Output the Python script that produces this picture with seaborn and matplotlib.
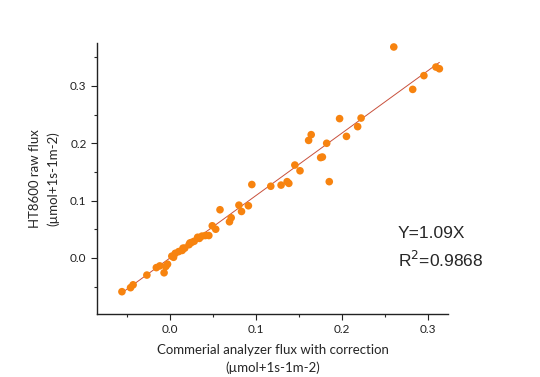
import seaborn as sns
import matplotlib.pyplot as plt
import numpy as np
import pandas as pd
from matplotlib.ticker import MultipleLocator

# Flux values
commercial_flux = [-0.056, -0.046, -0.043, -0.027, -0.016, -0.012, -0.007, -0.005, -0.003,
                   0.002, 0.004, 0.006, 0.010, 0.014, 0.015, 0.017, 0.022, 0.023, 0.025,
                   0.028, 0.032, 0.034, 0.037, 0.041, 0.045, 0.049, 0.053, 0.058, 0.069,
                   0.071, 0.080, 0.083, 0.091, 0.095, 0.117, 0.129, 0.136, 0.138, 0.145,
                   0.151, 0.161, 0.164, 0.175, 0.177, 0.182, 0.185, 0.197, 0.205, 0.218,
                   0.222, 0.260, 0.282, 0.295, 0.309, 0.313]
ht8600_flux = [-0.059, -0.052, -0.047, -0.030, -0.017, -0.014, -0.026, -0.015, -0.011,
               0.003, 0.001, 0.008, 0.011, 0.013, 0.017, 0.017, 0.023, 0.026, 0.027,
               0.029, 0.036, 0.034, 0.038, 0.039, 0.039, 0.056, 0.050, 0.084, 0.063,
               0.070, 0.092, 0.081, 0.091, 0.128, 0.125, 0.127, 0.133, 0.130, 0.162,
               0.152, 0.205, 0.215, 0.175, 0.176, 0.200, 0.133, 0.243, 0.212, 0.229,
               0.244, 0.368, 0.294, 0.318, 0.333, 0.330]
slope = 1.09
r_squared = 0.9868

df = pd.DataFrame({'x': commercial_flux, 'y': ht8600_flux})

sns.set_style('ticks')
plt.rcParams['font.family'] = ['Lato', 'DejaVu Sans']

fig = plt.figure(figsize=(5.4, 3.77), dpi=100)
ax = fig.add_axes([0.1796, 0.167, 0.65, 0.719])

# Fitted line through the origin
fit_x = np.array([df['x'].min(), df['x'].max()])
fit = pd.DataFrame({'x': fit_x, 'y': slope * fit_x})
sns.lineplot(data=fit, x='x', y='y', ax=ax, color='#C8503C', linewidth=0.7)

sns.scatterplot(data=df, x='x', y='y', ax=ax, color='#F7830F', s=30,
                edgecolor='none', zorder=3)

ax.set_xlim(-0.085, 0.323)
ax.set_ylim(-0.098, 0.375)
ax.xaxis.set_major_locator(MultipleLocator(0.1))
ax.xaxis.set_minor_locator(MultipleLocator(0.05))
ax.yaxis.set_major_locator(MultipleLocator(0.1))
ax.yaxis.set_minor_locator(MultipleLocator(0.05))
ax.xaxis.set_major_formatter(plt.FormatStrFormatter('%.1f'))
ax.yaxis.set_major_formatter(plt.FormatStrFormatter('%.1f'))
ax.tick_params(which='major', length=4, width=0.8, labelsize=8.5, colors='#222222')
ax.tick_params(which='minor', length=2.5, width=0.8)
for s in ['left', 'bottom']:
    ax.spines[s].set_linewidth(1.0)
    ax.spines[s].set_color('#222222')
sns.despine(ax=ax)

ax.set_xlabel('Commerial analyzer flux with correction\n(µmol+1s-1m-2)', fontsize=9.5,
              linespacing=1.5, labelpad=6)
ax.set_ylabel('HT8600 raw flux\n(µmol+1s-1m-2)', fontsize=9.5, linespacing=1.5,
              labelpad=8)

# Fit annotation (figure coords)
fig.text(398 / 540, 1 - 233 / 377, f'Y={slope:.2f}X', fontsize=12.5,
         family='Liberation Sans', va='center')
fig.text(398 / 540, 1 - 260 / 377, r'R$^{2}$=' + f'{r_squared:.4f}', fontsize=12.5,
         family='Liberation Sans', va='center')

fig.savefig('out.png', dpi=100)
